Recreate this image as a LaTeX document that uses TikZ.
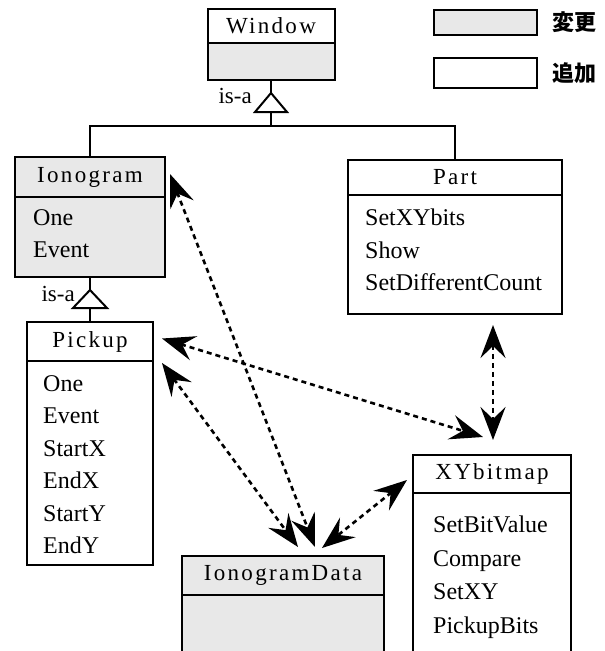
\documentclass[tikz,border=0pt]{standalone}
\usepackage{fontspec}
\setmainfont{Liberation Serif}
\newfontfamily\cjk{Noto Sans CJK JP}
\newfontfamily\spaced[LetterSpace=10]{Liberation Serif}
\usetikzlibrary{positioning,arrows.meta}

\begin{document}
\begin{tikzpicture}[x=1pt, y=-1pt, node distance=0pt,
  head/.style={draw, line width=2pt, inner sep=0pt, outer sep=0pt, font=\spaced\fontsize{23}{23}\selectfont},
  body/.style={draw, line width=2pt, inner sep=0pt, outer sep=0pt},
  items/.style={inner sep=0pt, align=left, font=\fontsize{24}{32.5}\selectfont},
  changed/.style={fill=black!9},
  isa/.style={line width=2pt},
  isalabel/.style={inner sep=0pt, font=\fontsize{23}{23}\selectfont},
  link/.style={line width=2.6pt, dash pattern=on 5pt off 4pt,
    {Stealth[length=33pt,width=25pt,inset=12pt]}-{Stealth[length=33pt,width=25pt,inset=12pt]}}]

  \clip (0,0) rectangle (605,651);

  % Legend
  \node[body, changed, minimum width=103pt, minimum height=25pt] (keyold) at (485,22) {};
  \node[body, minimum width=103pt, minimum height=30pt] (keynew) at (485,73) {};
  \node[right=16pt of keyold, inner sep=0pt, font=\cjk\bfseries\fontsize{22}{22}\selectfont] (keyoldtxt) {変更};
  \node[right=16pt of keynew, inner sep=0pt, font=\cjk\bfseries\fontsize{22}{22}\selectfont] (keynewtxt) {追加};

  % Classes
  \node[head, minimum width=127pt, minimum height=34pt] (win) at (271,26) {Window};
  \node[body, changed, minimum width=127pt, minimum height=37pt, below=of win] (winbody) {};

  \node[head, changed, minimum width=150pt, minimum height=40pt] (ion) at (90,177) {Ionogram};
  \node[body, changed, minimum width=150pt, minimum height=80pt, below=of ion] (ionbody) {};
  \node[items, below right=12pt and 18pt of ionbody.north west] (ionlist) {One\\Event};

  \node[head, minimum width=126pt, minimum height=39pt] (pick) at (90,341.5) {Pickup};
  \node[body, minimum width=126pt, minimum height=204pt, below=of pick] (pickbody) {};
  \node[items, below right=14pt and 16pt of pickbody.north west] (picklist) {One\\Event\\StartX\\EndX\\StartY\\EndY};

  \node[head, minimum width=214pt, minimum height=35pt] (part) at (455,177.5) {Part};
  \node[body, minimum width=214pt, minimum height=119pt, below=of part] (partbody) {};
  \node[items, below right=14pt and 17pt of partbody.north west] (partlist) {SetXYbits\\Show\\SetDifferentCount};

  \node[head, minimum width=158pt, minimum height=38pt] (xy) at (492,474) {XYbitmap};
  \node[body, minimum width=158pt, minimum height=200pt, below=of xy] (xybody) {};
  \node[items, font=\fontsize{24}{33.5}\selectfont, below right=23pt and 20pt of xybody.north west] (xylist) {SetBitValue\\Compare\\SetXY\\PickupBits};

  \node[head, changed, minimum width=202pt, minimum height=39pt] (data) at (283,575.5) {IonogramData};
  \node[body, changed, minimum width=202pt, minimum height=120pt, below=of data] (databody) {};

  % is-a
  \coordinate[below=13pt of winbody] (wintip);
  \coordinate[below=19pt of wintip] (winbase);
  \coordinate[below=14pt of winbase] (bus);
  \draw[isa] (winbody.south) -- (wintip);
  \draw[isa] (wintip) -- ++(-16,19) -- ++(32,0) -- cycle;
  \draw[isa] (winbase) -- (bus);
  \draw[isa] (ion.north) |- (bus) -| (part.north);
  \node[isalabel, left=19pt of wintip, yshift=-3pt] (winisa) {is-a};

  \coordinate[below=13pt of ionbody] (iontip);
  \coordinate[below=18pt of iontip] (ionbase);
  \draw[isa] (ionbody.south) -- (iontip);
  \draw[isa] (iontip) -- ++(-17,18) -- ++(34,0) -- cycle;
  \draw[isa] (ionbase) -- (pick.north);
  \node[isalabel, left=15pt of iontip, yshift=-4pt] (ionisa) {is-a};

  % uses
  \draw[link] ([xshift=5pt,yshift=3pt]ion.east) -- ([xshift=32pt,yshift=9pt]data.north);
  \draw[link] ([xshift=9pt,yshift=-2pt]pick.south east) -- ([xshift=15pt,yshift=9pt]data.north);
  \draw[link] ([xshift=9pt,yshift=3pt]pick.east) -- ([xshift=-9pt,yshift=18pt]xy.north);
  \draw[link] ([xshift=-6pt,yshift=-6pt]xy.west) -- ([xshift=39pt,yshift=8pt]data.north);
  \draw[link] ([xshift=38pt,yshift=-11pt]partbody.south) -- ([xshift=1pt,yshift=15pt]xy.north);

\end{tikzpicture}
\end{document}
